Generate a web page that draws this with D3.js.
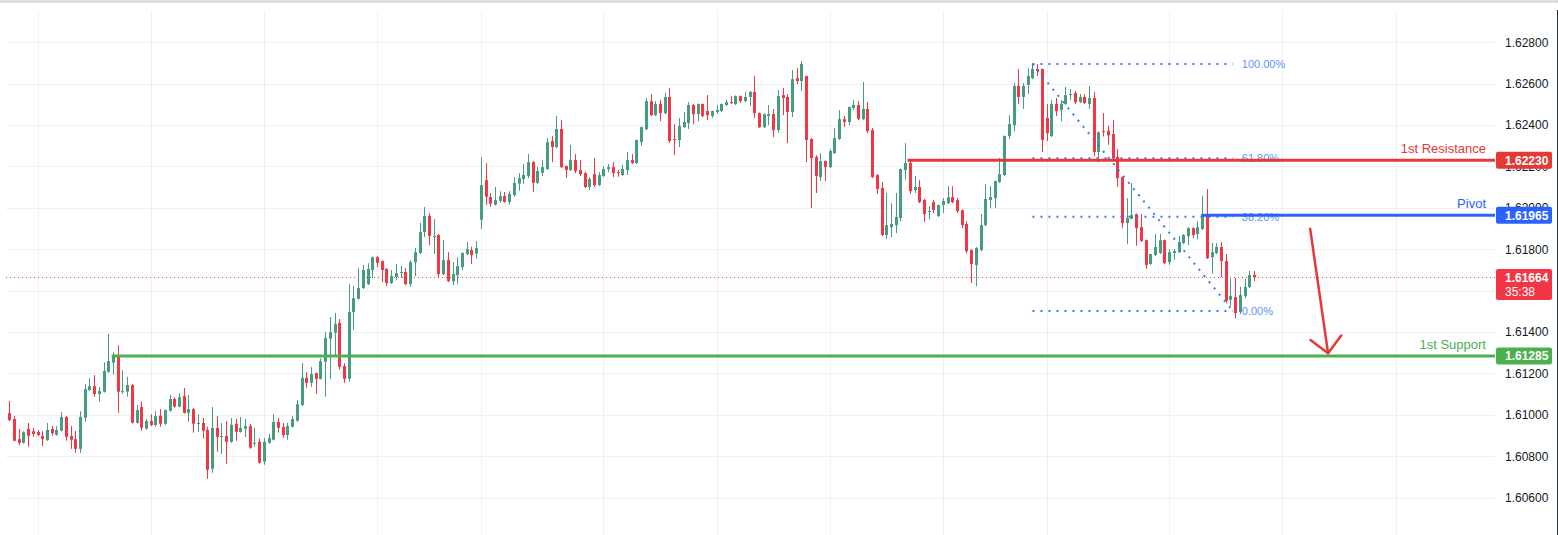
<!DOCTYPE html>
<html>
<head>
<meta charset="utf-8">
<script src="https://cdn.jsdelivr.net/npm/d3@7"></script>
<style>
  html, body { margin: 0; padding: 0; background: #ffffff; }
  svg { display: block; font-family: "Liberation Sans", Arial, sans-serif; }
</style>
</head>
<body>
<div id="chart"></div>
<script>
// hourly candles
const opens = [
  1.61009, 1.60980, 1.60883, 1.60865, 1.60932, 1.60921, 1.60917, 1.60898, 1.60878, 1.60932,
  1.60904, 1.60924, 1.60990, 1.60898, 1.60883, 1.60836, 1.60986, 1.61120, 1.61139, 1.61101,
  1.61112, 1.61208, 1.61252, 1.61285, 1.61110, 1.61112, 1.61144, 1.60962, 1.61038, 1.60933,
  1.60970, 1.60951, 1.60996, 1.60957, 1.61020, 1.61077, 1.61040, 1.61091, 1.61010, 1.61028,
  1.60957, 1.60961, 1.60927, 1.60740, 1.60937, 1.60894, 1.60898, 1.60870, 1.60957, 1.60918,
  1.60933, 1.60946, 1.60862, 1.60870, 1.60774, 1.60865, 1.60880, 1.60966, 1.60942, 1.60903,
  1.60943, 1.60972, 1.61048, 1.61179, 1.61155, 1.61202, 1.61174, 1.61257, 1.61368, 1.61397,
  1.61444, 1.61236, 1.61174, 1.61497, 1.61561, 1.61613, 1.61632, 1.61700, 1.61762, 1.61743,
  1.61705, 1.61637, 1.61666, 1.61685, 1.61690, 1.61632, 1.61738, 1.61782, 1.61883, 1.61961,
  1.61859, 1.61869, 1.61680, 1.61748, 1.61646, 1.61675, 1.61714, 1.61777, 1.61796, 1.61779,
  1.61943, 1.62134, 1.62052, 1.62015, 1.62034, 1.62057, 1.62029, 1.62062, 1.62117, 1.62139,
  1.62154, 1.62221, 1.62121, 1.62170, 1.62188, 1.62323, 1.62294, 1.62381, 1.62202, 1.62183,
  1.62231, 1.62183, 1.62168, 1.62101, 1.62163, 1.62110, 1.62154, 1.62188, 1.62197, 1.62173,
  1.62159, 1.62183, 1.62231, 1.62217, 1.62318, 1.62381, 1.62516, 1.62448, 1.62502, 1.62458,
  1.62536, 1.62333, 1.62328, 1.62390, 1.62410, 1.62497, 1.62453, 1.62502, 1.62468, 1.62444,
  1.62463, 1.62468, 1.62497, 1.62511, 1.62502, 1.62540, 1.62516, 1.62536, 1.62560, 1.62458,
  1.62390, 1.62444, 1.62453, 1.62376, 1.62545, 1.62536, 1.62463, 1.62627, 1.62613, 1.62637,
  1.62333, 1.62246, 1.62149, 1.62226, 1.62197, 1.62265, 1.62333, 1.62429, 1.62415, 1.62482,
  1.62497, 1.62429, 1.62478, 1.62376, 1.62159, 1.62096, 1.61869, 1.61907, 1.61917, 1.61951,
  1.62183, 1.62217, 1.62086, 1.62101, 1.62038, 1.61980, 1.62028, 1.61961, 1.62014, 1.62023,
  1.62052, 1.62038, 1.61989, 1.61922, 1.61796, 1.61724, 1.61796, 1.61917, 1.62038, 1.62047,
  1.62125, 1.62159, 1.62347, 1.62400, 1.62589, 1.62536, 1.62594, 1.62627, 1.62671, 1.62671,
  1.62434, 1.62347, 1.62502, 1.62473, 1.62502, 1.62545, 1.62555, 1.62511, 1.62536, 1.62502,
  1.62531, 1.62270, 1.62371, 1.62373, 1.62357, 1.62246, 1.62149, 1.61927, 1.61947, 1.61970,
  1.61907, 1.61844, 1.61729, 1.61772, 1.61782, 1.61844, 1.61738, 1.61782, 1.61786, 1.61830,
  1.61864, 1.61902, 1.61874, 1.61898, 1.61965, 1.61762, 1.61782, 1.61811, 1.61743, 1.61556,
  1.61569, 1.61497, 1.61574, 1.61618, 1.61676
];
const highs = [
  1.61067, 1.60994, 1.60932, 1.60921, 1.60961, 1.60937, 1.60927, 1.60921, 1.60961, 1.60946,
  1.60946, 1.61013, 1.60994, 1.60946, 1.60922, 1.61018, 1.61149, 1.61178, 1.61192, 1.61134,
  1.61254, 1.61391, 1.61302, 1.61337, 1.61216, 1.61184, 1.61150, 1.61048, 1.61064, 1.60980,
  1.61004, 1.61018, 1.61028, 1.61026, 1.61096, 1.61086, 1.61105, 1.61130, 1.61096, 1.61033,
  1.61004, 1.60985, 1.60942, 1.61038, 1.60994, 1.60961, 1.60970, 1.60985, 1.60980, 1.60990,
  1.60980, 1.60957, 1.60937, 1.60885, 1.60890, 1.60908, 1.61004, 1.60985, 1.60961, 1.60961,
  1.60994, 1.61072, 1.61250, 1.61207, 1.61231, 1.61204, 1.61274, 1.61400, 1.61473, 1.61492,
  1.61463, 1.61250, 1.61632, 1.61622, 1.61709, 1.61724, 1.61733, 1.61765, 1.61767, 1.61746,
  1.61709, 1.61700, 1.61729, 1.61719, 1.61709, 1.61748, 1.61806, 1.61927, 1.62004, 1.61975,
  1.61946, 1.61874, 1.61844, 1.61786, 1.61738, 1.61762, 1.61786, 1.61835, 1.61812, 1.61840,
  1.62245, 1.62216, 1.62072, 1.62101, 1.62081, 1.62077, 1.62081, 1.62149, 1.62168, 1.62212,
  1.62260, 1.62226, 1.62197, 1.62231, 1.62337, 1.62347, 1.62444, 1.62424, 1.62205, 1.62304,
  1.62260, 1.62231, 1.62173, 1.62149, 1.62241, 1.62173, 1.62202, 1.62212, 1.62221, 1.62183,
  1.62207, 1.62270, 1.62260, 1.62330, 1.62393, 1.62531, 1.62550, 1.62516, 1.62521, 1.62555,
  1.62579, 1.62405, 1.62434, 1.62463, 1.62511, 1.62502, 1.62504, 1.62504, 1.62545, 1.62470,
  1.62497, 1.62504, 1.62521, 1.62540, 1.62543, 1.62543, 1.62560, 1.62565, 1.62637, 1.62461,
  1.62456, 1.62497, 1.62478, 1.62569, 1.62579, 1.62550, 1.62666, 1.62675, 1.62709, 1.62639,
  1.62337, 1.62255, 1.62265, 1.62229, 1.62284, 1.62386, 1.62473, 1.62444, 1.62490, 1.62521,
  1.62516, 1.62608, 1.62511, 1.62386, 1.62163, 1.62125, 1.62072, 1.62023, 1.62072, 1.62190,
  1.62313, 1.62231, 1.62154, 1.62134, 1.62043, 1.62009, 1.62038, 1.62016, 1.62047, 1.62105,
  1.62105, 1.62047, 1.61992, 1.61936, 1.61801, 1.61811, 1.61970, 1.62115, 1.62105, 1.62132,
  1.62241, 1.62350, 1.62448, 1.62603, 1.62671, 1.62603, 1.62675, 1.62698, 1.62695, 1.62673,
  1.62502, 1.62521, 1.62531, 1.62521, 1.62584, 1.62574, 1.62565, 1.62550, 1.62550, 1.62589,
  1.62560, 1.62369, 1.62458, 1.62397, 1.62424, 1.62284, 1.62151, 1.62047, 1.62120, 1.61973,
  1.61970, 1.61847, 1.61779, 1.61874, 1.61874, 1.61847, 1.61801, 1.61801, 1.61864, 1.61874,
  1.61907, 1.61907, 1.61936, 1.62057, 1.62091, 1.61830, 1.61830, 1.61835, 1.61777, 1.61658,
  1.61662, 1.61618, 1.61658, 1.61695, 1.61695
];
const lows = [
  1.60970, 1.60873, 1.60854, 1.60861, 1.60846, 1.60895, 1.60898, 1.60849, 1.60875, 1.60899,
  1.60899, 1.60920, 1.60875, 1.60836, 1.60817, 1.60817, 1.60967, 1.61115, 1.61088, 1.61064,
  1.61108, 1.61204, 1.61194, 1.61010, 1.61101, 1.61088, 1.60958, 1.60958, 1.60924, 1.60929,
  1.60946, 1.60943, 1.60943, 1.60952, 1.61016, 1.61035, 1.61036, 1.61006, 1.60967, 1.60914,
  1.60918, 1.60885, 1.60691, 1.60720, 1.60822, 1.60812, 1.60764, 1.60865, 1.60875, 1.60914,
  1.60893, 1.60836, 1.60846, 1.60765, 1.60759, 1.60861, 1.60876, 1.60914, 1.60890, 1.60880,
  1.60939, 1.60967, 1.61043, 1.61131, 1.61136, 1.61102, 1.61171, 1.61088, 1.61174, 1.61286,
  1.61218, 1.61155, 1.61160, 1.61411, 1.61557, 1.61608, 1.61627, 1.61661, 1.61714, 1.61642,
  1.61622, 1.61632, 1.61651, 1.61661, 1.61627, 1.61618, 1.61671, 1.61777, 1.61859, 1.61820,
  1.61777, 1.61661, 1.61675, 1.61642, 1.61627, 1.61632, 1.61700, 1.61772, 1.61729, 1.61754,
  1.61898, 1.62015, 1.62005, 1.62011, 1.62025, 1.62025, 1.62015, 1.62054, 1.62083, 1.62115,
  1.62144, 1.62078, 1.62115, 1.62154, 1.62183, 1.62221, 1.62289, 1.62192, 1.62144, 1.62178,
  1.62168, 1.62154, 1.62096, 1.62086, 1.62101, 1.62106, 1.62149, 1.62173, 1.62149, 1.62150,
  1.62154, 1.62159, 1.62212, 1.62212, 1.62299, 1.62376, 1.62444, 1.62444, 1.62419, 1.62453,
  1.62313, 1.62255, 1.62294, 1.62386, 1.62381, 1.62405, 1.62419, 1.62439, 1.62424, 1.62434,
  1.62453, 1.62463, 1.62492, 1.62502, 1.62497, 1.62507, 1.62511, 1.62492, 1.62434, 1.62386,
  1.62386, 1.62400, 1.62342, 1.62363, 1.62448, 1.62313, 1.62439, 1.62598, 1.62565, 1.62221,
  1.61999, 1.62072, 1.62130, 1.62130, 1.62192, 1.62260, 1.62328, 1.62390, 1.62400, 1.62473,
  1.62424, 1.62424, 1.62361, 1.62144, 1.62067, 1.61864, 1.61849, 1.61859, 1.61878, 1.61936,
  1.62134, 1.62067, 1.62072, 1.62023, 1.61932, 1.61946, 1.61975, 1.61956, 1.61975, 1.62018,
  1.62023, 1.61975, 1.61902, 1.61782, 1.61637, 1.61622, 1.61791, 1.61912, 1.61999, 1.61999,
  1.62120, 1.62154, 1.62333, 1.62371, 1.62502, 1.62478, 1.62550, 1.62622, 1.62637, 1.62270,
  1.62323, 1.62342, 1.62444, 1.62419, 1.62497, 1.62521, 1.62502, 1.62507, 1.62502, 1.62478,
  1.62250, 1.62220, 1.62345, 1.62304, 1.62231, 1.62101, 1.61902, 1.61825, 1.61944, 1.61817,
  1.61835, 1.61706, 1.61724, 1.61767, 1.61777, 1.61729, 1.61725, 1.61749, 1.61782, 1.61825,
  1.61820, 1.61854, 1.61849, 1.61893, 1.61753, 1.61682, 1.61777, 1.61666, 1.61540, 1.61527,
  1.61468, 1.61487, 1.61564, 1.61613, 1.61647
];
const closes = [
  1.60975, 1.60875, 1.60865, 1.60916, 1.60899, 1.60908, 1.60903, 1.60883, 1.60927, 1.60911,
  1.60927, 1.60990, 1.60894, 1.60880, 1.60836, 1.60990, 1.61125, 1.61139, 1.61101, 1.61115,
  1.61212, 1.61260, 1.61285, 1.61112, 1.61115, 1.61144, 1.60962, 1.61023, 1.60938, 1.60970,
  1.60951, 1.60994, 1.60957, 1.61023, 1.61077, 1.61040, 1.61086, 1.61010, 1.61028, 1.60957,
  1.60961, 1.60924, 1.60735, 1.60937, 1.60894, 1.60898, 1.60870, 1.60952, 1.60918, 1.60937,
  1.60946, 1.60841, 1.60865, 1.60769, 1.60870, 1.60888, 1.60966, 1.60938, 1.60903, 1.60946,
  1.60980, 1.61052, 1.61179, 1.61155, 1.61197, 1.61174, 1.61260, 1.61371, 1.61400, 1.61439,
  1.61233, 1.61174, 1.61497, 1.61564, 1.61613, 1.61700, 1.61705, 1.61762, 1.61735, 1.61700,
  1.61637, 1.61671, 1.61685, 1.61690, 1.61632, 1.61738, 1.61786, 1.61883, 1.61961, 1.61864,
  1.61864, 1.61680, 1.61748, 1.61646, 1.61680, 1.61719, 1.61782, 1.61801, 1.61772, 1.61806,
  1.62110, 1.62054, 1.62020, 1.62038, 1.62057, 1.62029, 1.62067, 1.62120, 1.62144, 1.62159,
  1.62221, 1.62121, 1.62178, 1.62197, 1.62318, 1.62294, 1.62381, 1.62197, 1.62183, 1.62231,
  1.62178, 1.62163, 1.62101, 1.62139, 1.62110, 1.62159, 1.62188, 1.62197, 1.62168, 1.62170,
  1.62188, 1.62231, 1.62217, 1.62328, 1.62390, 1.62516, 1.62448, 1.62502, 1.62458, 1.62536,
  1.62323, 1.62328, 1.62395, 1.62415, 1.62497, 1.62453, 1.62502, 1.62444, 1.62448, 1.62468,
  1.62473, 1.62502, 1.62511, 1.62507, 1.62540, 1.62516, 1.62536, 1.62560, 1.62458, 1.62390,
  1.62453, 1.62453, 1.62376, 1.62540, 1.62531, 1.62463, 1.62622, 1.62613, 1.62695, 1.62328,
  1.62241, 1.62154, 1.62226, 1.62197, 1.62275, 1.62337, 1.62429, 1.62415, 1.62487, 1.62497,
  1.62429, 1.62478, 1.62371, 1.62149, 1.62091, 1.61869, 1.61917, 1.61922, 1.61956, 1.62188,
  1.62217, 1.62081, 1.62101, 1.62028, 1.61970, 1.61985, 1.61989, 1.62014, 1.62033, 1.62052,
  1.62028, 1.61985, 1.61917, 1.61791, 1.61729, 1.61806, 1.61917, 1.62043, 1.62052, 1.62130,
  1.62163, 1.62347, 1.62405, 1.62589, 1.62536, 1.62589, 1.62637, 1.62671, 1.62661, 1.62328,
  1.62361, 1.62502, 1.62468, 1.62502, 1.62545, 1.62550, 1.62511, 1.62536, 1.62507, 1.62531,
  1.62270, 1.62366, 1.62366, 1.62350, 1.62241, 1.62144, 1.61927, 1.61951, 1.61965, 1.61902,
  1.61840, 1.61724, 1.61777, 1.61811, 1.61844, 1.61733, 1.61786, 1.61791, 1.61835, 1.61869,
  1.61902, 1.61869, 1.61907, 1.61970, 1.61758, 1.61786, 1.61811, 1.61743, 1.61551, 1.61575,
  1.61492, 1.61579, 1.61618, 1.61676, 1.61664
];

const priceTicks = [1.628, 1.626, 1.624, 1.622, 1.620, 1.618, 1.616, 1.614, 1.612, 1.610, 1.608, 1.606];
const dayStarts = [6, 30, 54, 78, 100, 126, 150, 174, 198, 220, 246, 270, 294];

const levelNames = ["1st Resistance", "Pivot", "1st Support"];
const levelValues = [1.62230, 1.61965, 1.61285];
const levelStarts = [190.5, 253, 21.7];

const fibRatios = [1, 0.618, 0.382, 0];
const fibLabels = ["100.00%", "61.80%", "38.20%", "0.00%"];
const fibHigh = 1.62695;
const fibLow = 1.61502;
const fibSpan = [217, 259.5];

const lastPrice = 1.61664;
const countdown = "35:38";

const arrowIdx = [275.9, 279.7];
const arrowPrice = [1.61899, 1.61298];

// layout
const width = 1558, height = 535;
const plotLeft = 6, plotRight = 1495, plotTop = 11;
const levelColors = ["#e53935", "#2962ff", "#4caf50"];
const upColor = "#459c80", downColor = "#f23645";
const fibColor = "#3d74f5", fibText = "#5e93f6";
const fmt = d3.format(".5f");

const x = d3.scaleLinear().domain([0, 315]).range([9.3, 9.3 + 315 * 4.715]);
const y = d3.scaleLinear().domain([1.606, 1.628]).range([497.7, 42.3]);

const svg = d3.select("#chart").append("svg")
    .attr("width", width)
    .attr("height", height);

svg.append("rect").attr("width", width).attr("height", height).attr("fill", "#ffffff");

// top strip
svg.append("rect").attr("x", 0).attr("y", 0).attr("width", width).attr("height", 3).attr("fill", "#e2e2e2");
svg.append("line").attr("x1", 0).attr("x2", width).attr("y1", 1.5).attr("y2", 1.5)
    .attr("stroke", "#c4c4c4").attr("stroke-dasharray", "1,2");

// grid
const grid = svg.append("g");
grid.selectAll(".hgrid").data(priceTicks).enter().append("line")
    .attr("x1", plotLeft).attr("x2", plotRight)
    .attr("y1", d => Math.round(y(d)) + 0.5).attr("y2", d => Math.round(y(d)) + 0.5)
    .attr("stroke", "#eff0f2");
grid.selectAll(".vgrid").data(dayStarts).enter().append("line")
    .attr("x1", d => Math.round(x(d)) + 0.5).attr("x2", d => Math.round(x(d)) + 0.5)
    .attr("y1", plotTop).attr("y2", height)
    .attr("stroke", "#eff0f2");

// last price dotted line
svg.append("line")
    .attr("x1", plotLeft).attr("x2", plotRight)
    .attr("y1", Math.round(y(lastPrice)) + 0.5).attr("y2", Math.round(y(lastPrice)) + 0.5)
    .attr("stroke", downColor).attr("stroke-dasharray", "1,3");

// candles
const candles = d3.range(opens.length).map(i => ({ i, o: opens[i], h: highs[i], l: lows[i], c: closes[i] }));
const cg = svg.append("g").selectAll("g").data(candles).enter().append("g");
cg.append("line")
    .attr("x1", d => Math.round(x(d.i)) + 0.5).attr("x2", d => Math.round(x(d.i)) + 0.5)
    .attr("y1", d => y(d.h)).attr("y2", d => y(d.l))
    .attr("stroke", d => d.c >= d.o ? upColor : downColor).attr("stroke-width", 1);
cg.append("rect")
    .attr("x", d => Math.round(x(d.i)) - 1)
    .attr("width", 3)
    .attr("y", d => y(Math.max(d.o, d.c)))
    .attr("height", d => Math.max(1, Math.abs(y(d.o) - y(d.c))))
    .attr("fill", d => d.c >= d.o ? upColor : downColor);

// fibonacci retracement
const fib = svg.append("g");
const fibLevels = fibRatios.map(r => fibLow + r * (fibHigh - fibLow));
fib.append("line")
    .attr("x1", x(fibSpan[0])).attr("y1", y(fibHigh))
    .attr("x2", x(fibSpan[1])).attr("y2", y(fibLow))
    .attr("stroke", fibColor).attr("stroke-width", 2).attr("stroke-dasharray", "2,6");
fib.selectAll(".fibline").data(fibLevels).enter().append("line")
    .attr("x1", x(fibSpan[0])).attr("x2", x(fibSpan[1]))
    .attr("y1", d => y(d)).attr("y2", d => y(d))
    .attr("stroke", fibColor).attr("stroke-width", 2).attr("stroke-dasharray", "2,6");
fib.selectAll(".fibtext").data(fibLevels).enter().append("text")
    .attr("x", x(fibSpan[1]) + 9)
    .attr("y", d => y(d) + 4)
    .attr("font-size", "11px")
    .attr("fill", fibText)
    .text((d, k) => fibLabels[k]);

// support / resistance lines
const lv = svg.append("g");
lv.selectAll(".level").data(levelValues).enter().append("line")
    .attr("x1", (d, k) => x(levelStarts[k])).attr("x2", plotRight)
    .attr("y1", d => y(d)).attr("y2", d => y(d))
    .attr("stroke", (d, k) => levelColors[k]).attr("stroke-width", 3);
lv.selectAll(".levelname").data(levelValues).enter().append("text")
    .attr("x", plotRight - 9)
    .attr("y", d => y(d) - 7)
    .attr("text-anchor", "end")
    .attr("font-size", "13px")
    .attr("fill", (d, k) => levelColors[k])
    .text((d, k) => levelNames[k]);

// price axis (labels that sit under the live price tag are skipped, as on the platform)
const axisTicks = priceTicks.filter(t => Math.abs(y(t) - (y(lastPrice) + 7)) > 16);
const axis = svg.append("g")
    .attr("transform", `translate(${plotRight},0)`)
    .call(d3.axisRight(y).tickValues(axisTicks).tickFormat(fmt).tickSize(0).tickPadding(10));
axis.select(".domain").remove();
axis.selectAll("text")
    .attr("font-size", "12px")
    .attr("font-family", "'Liberation Sans', Arial, sans-serif")
    .attr("fill", "#131722");

// axis price tags
const tags = svg.append("g");
tags.selectAll(".tag").data(levelValues).enter().append("rect")
    .attr("x", plotRight + 1).attr("width", 56)
    .attr("y", d => y(d) - 8.5).attr("height", 17).attr("rx", 2)
    .attr("fill", (d, k) => levelColors[k]);
tags.selectAll(".tagtext").data(levelValues).enter().append("text")
    .attr("x", plotRight + 10).attr("y", d => y(d) + 4.5)
    .attr("font-size", "12px").attr("font-weight", "bold").attr("fill", "#ffffff")
    .text(d => fmt(d));

tags.append("rect")
    .attr("x", plotRight + 1).attr("width", 56)
    .attr("y", y(lastPrice) - 8.5).attr("height", 31).attr("rx", 2)
    .attr("fill", downColor);
tags.append("text")
    .attr("x", plotRight + 10).attr("y", y(lastPrice) + 4.5)
    .attr("font-size", "12px").attr("font-weight", "bold").attr("fill", "#ffffff")
    .text(fmt(lastPrice));
tags.append("text")
    .attr("x", plotRight + 10).attr("y", y(lastPrice) + 19)
    .attr("font-size", "12px").attr("fill", "#ffffff")
    .text(countdown);

// right border
svg.append("line")
    .attr("x1", width - 0.5).attr("x2", width - 0.5)
    .attr("y1", 10).attr("y2", height)
    .attr("stroke", "#2a2e39");

// down arrow
const ax0 = x(arrowIdx[0]), ay0 = y(arrowPrice[0]);
const ax1 = x(arrowIdx[1]), ay1 = y(arrowPrice[1]);
const ang = Math.atan2(ay0 - ay1, ax0 - ax1);
const head = 22, spread = Math.PI / 4;
const w1 = [ax1 + head * Math.cos(ang - spread), ay1 + head * Math.sin(ang - spread)];
const w2 = [ax1 + head * Math.cos(ang + spread), ay1 + head * Math.sin(ang + spread)];
svg.append("path")
    .attr("d", `M${ax0},${ay0}L${ax1},${ay1}M${w1[0]},${w1[1]}L${ax1},${ay1}L${w2[0]},${w2[1]}`)
    .attr("fill", "none")
    .attr("stroke", "#e53935")
    .attr("stroke-width", 2.5)
    .attr("stroke-linecap", "round")
    .attr("stroke-linejoin", "round");
</script>
</body>
</html>
